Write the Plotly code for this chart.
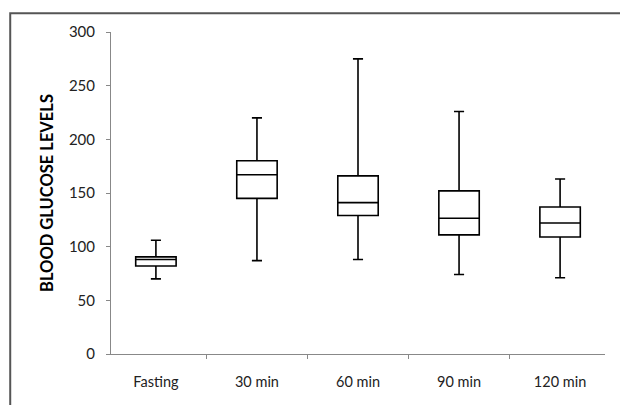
import plotly.graph_objects as go

categories = ["Fasting", "30 min", "60 min", "90 min", "120 min"]
lower_whisker = [70, 87, 88, 74, 71]
q1_values = [82, 145, 129, 111, 109]
median_values = [88, 167, 141, 126.5, 122]
q3_values = [90.5, 180, 166, 152, 137]
upper_whisker = [106, 220, 275, 226, 163]
y_ticks = [0, 50, 100, 150, 200, 250, 300]

fig = go.Figure()
fig.add_trace(go.Box(
    x=categories,
    q1=q1_values,
    median=median_values,
    q3=q3_values,
    lowerfence=lower_whisker,
    upperfence=upper_whisker,
    fillcolor="white",
    line=dict(color="black", width=1.6),
    whiskerwidth=0.25,
    width=0.4,
    boxpoints=False,
    showlegend=False,
    hoverinfo="skip",
))

font_family = "Lato, 'Open Sans', sans-serif"
fig.update_layout(
    width=620, height=405,
    margin=dict(l=111, r=15, t=32, b=51),
    paper_bgcolor="white", plot_bgcolor="white",
    font=dict(family=font_family, size=14, color="#222"),
    xaxis=dict(
        type="category",
        showline=True, linecolor="#888", linewidth=1,
        ticks="outside", tickson="boundaries", ticklen=4, tickcolor="#888",
        showgrid=False, zeroline=False,
        tickfont=dict(size=14.5, color="#222"),
        ticklabelstandoff=15,
    ),
    yaxis=dict(
        range=[0, 300],
        tickvals=y_ticks,
        showline=True, linecolor="#888", linewidth=1,
        ticks="outside", ticklen=4, tickcolor="#888",
        showgrid=False, zeroline=False,
        tickfont=dict(size=15, color="#222"),
        ticklabelstandoff=8,
        title=dict(text="<b>BLOOD GLUCOSE LEVELS</b>", font=dict(size=16.5, color="black"), standoff=11),
    ),
    shapes=[dict(
        type="rect", xref="paper", yref="paper",
        x0=-0.204, x1=1.2, y0=-0.5, y1=1.058,
        line=dict(color="#555", width=2), fillcolor="rgba(0,0,0,0)",
        layer="below",
    )],
)

fig.write_html(
    "out.html",
    config={"displayModeBar": False},
    post_script="document.body.style.margin='0';document.body.style.overflow='hidden';",
)
